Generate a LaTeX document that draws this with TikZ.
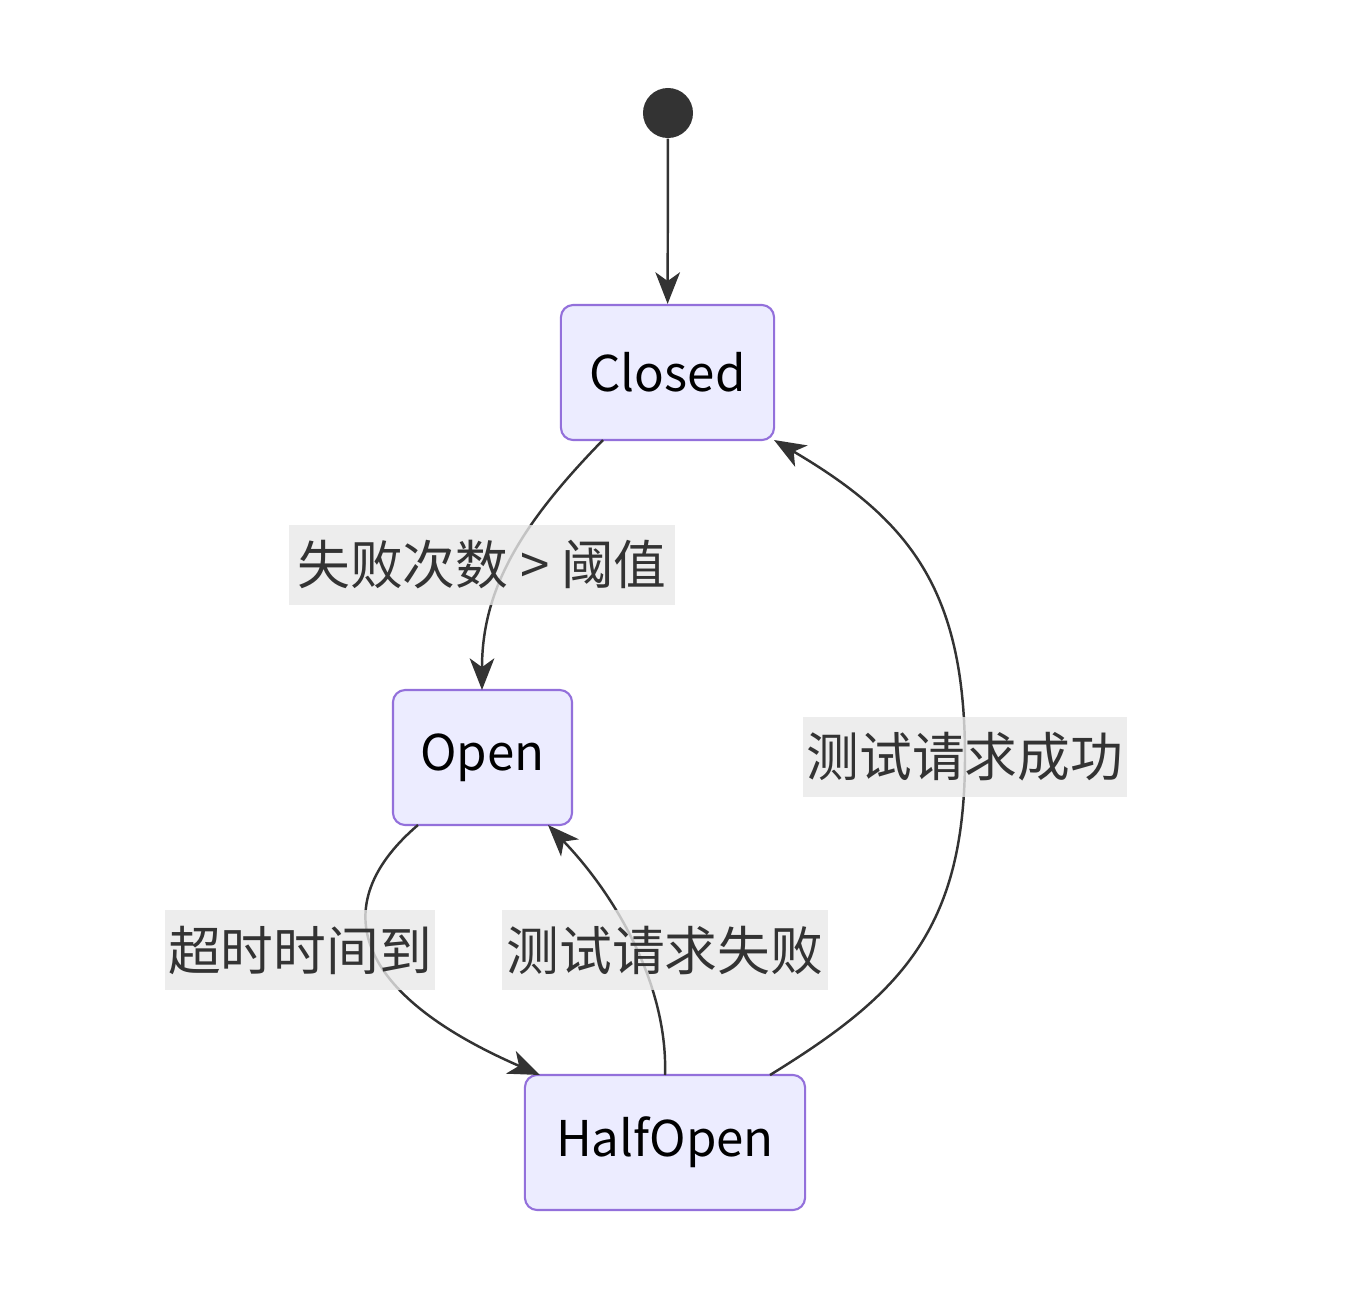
\documentclass[tikz,border=0pt]{standalone}
\usepackage{fontspec}
\setmainfont{Noto Sans CJK SC}
\usetikzlibrary{arrows.meta}
\definecolor{nfill}{HTML}{ECECFF}
\definecolor{nstroke}{HTML}{9370DB}
\definecolor{ink}{HTML}{333333}
\definecolor{lbg}{HTML}{E8E8E8}
\begin{document}
\begin{tikzpicture}[x=0.01cm,y=-0.01cm,
  state/.style={draw=nstroke,fill=nfill,line width=0.6pt,rounded corners=3.5pt,font=\fontsize{14}{16}\selectfont,text=black,inner sep=0pt},
  lbl/.style={fill=lbg,fill opacity=0.8,text opacity=1,text=ink,font=\fontsize{15}{17}\selectfont,inner sep=0pt},
  edge/.style={draw=ink,line width=0.7pt,-{Stealth[length=9pt,width=7pt,inset=2.5pt]}}]
\useasboundingbox (0,0) rectangle (1356,1302);
\node[circle,fill=ink,minimum size=0.5cm,inner sep=0pt] (start) at (668,113) {};
\node[state,minimum width=2.13cm,minimum height=1.35cm] (closed) at (667.5,372.5) {Closed};
\node[state,minimum width=1.79cm,minimum height=1.35cm] (open) at (482.5,757.5) {Open};
\node[state,minimum width=2.80cm,minimum height=1.35cm] (half) at (665,1142.5) {HalfOpen};
\coordinate (c1) at (603,440);
\coordinate (o1) at (482,690);
\coordinate (o2) at (418,825);
\coordinate (h1) at (540,1075);
\coordinate (h2) at (665,1075);
\coordinate (o3) at (548,825);
\coordinate (h3) at (770,1075);
\coordinate (c2) at (774,440);
\coordinate (m) at (965,757);
\draw[edge] (start) -- (closed);
\draw[edge] (c1) .. controls (520,525) and (482,590) .. (o1);
\draw[edge] (o2) .. controls (330,900) and (345,990) .. (h1);
\draw[edge] (h2) .. controls (668,990) and (620,900) .. (o3);
\draw[edge] (h3) .. controls (900,995) and (965,930) .. (m) .. controls (965,590) and (910,520) .. (c2);
\node[lbl,minimum width=3.85cm,minimum height=0.79cm] (l1) at (482,565) {失败次数 > 阈值};
\node[lbl,minimum width=3.24cm,minimum height=0.79cm] (l2) at (965,757) {测试请求成功};
\node[lbl,minimum width=2.70cm,minimum height=0.79cm] (l3) at (300,950) {超时时间到};
\node[lbl,minimum width=3.25cm,minimum height=0.79cm] (l4) at (665,950) {测试请求失败};
\end{tikzpicture}
\end{document}
